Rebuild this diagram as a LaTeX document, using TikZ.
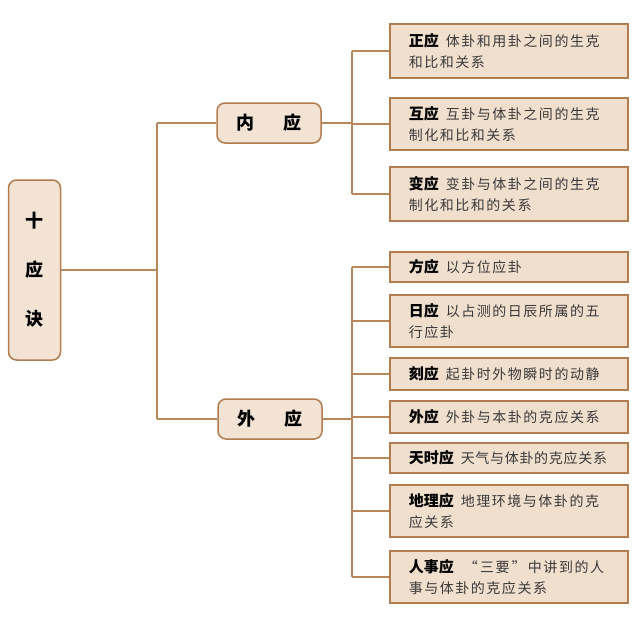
\documentclass[tikz,border=0pt]{standalone}
\usepackage{fontspec}
\newfontfamily\cjk[LetterSpace=11]{Noto Sans CJK SC}
\newfontfamily\cjktight[LetterSpace=5]{Noto Sans CJK SC}
\newfontfamily\cjkhead{Noto Sans CJK SC}
\definecolor{lineC}{HTML}{B8875C}
\definecolor{boxD}{HTML}{B07C50}
\definecolor{boxF}{HTML}{F1DFCE}
\definecolor{rootF}{HTML}{F3E3D4}
\definecolor{txt}{HTML}{3A3A3A}
\begin{document}
\begin{tikzpicture}[x=1pt,y=-1pt,
  conn/.style={draw=lineC, line width=1.5pt},
  rbox/.style={draw=boxD, fill=boxF, line width=1.5pt, rectangle, minimum width=238pt,
    inner xsep=19pt, inner ysep=0pt, align=left, text width=200pt,
    font=\cjk\fontsize{14}{21}\selectfont, text=txt, anchor=west},
  midbox/.style={draw=boxD, fill=rootF, line width=1.5pt, rounded corners=8pt,
    minimum width=104pt, minimum height=40pt, inner sep=0pt,
    font=\cjkhead\bfseries\fontsize{18}{20}\selectfont},
  rootbox/.style={draw=boxD, fill=rootF, line width=1.5pt, rounded corners=8pt,
    minimum width=52pt, minimum height=180pt, inner sep=0pt, align=center,
    font=\cjkhead\bfseries\fontsize{18}{49}\selectfont}
]
\useasboundingbox (0,0) rectangle (640,624);
\newcommand{\hd}[1]{{\cjkhead\color{black}\bfseries\fontsize{15}{21}\selectfont #1}\nobreak\hspace{7pt}}

% root and middle nodes
\node[rootbox] (root) at (34.5,270) {十\\应\\诀};
\node[midbox] (nei) at (269,123) {内\hspace{29pt}应};
\node[midbox] (wai) at (270,419) {外\hspace{29pt}应};

% right boxes
\node[rbox, minimum height=54pt] (z1) at (389,51) {\hd{正应}体卦和用卦之间的生克\\和比和关系};
\node[rbox, minimum height=52pt] (z2) at (389,124) {\hd{互应}互卦与体卦之间的生克\\制化和比和关系};
\node[rbox, minimum height=54pt] (z3) at (389,194) {\hd{变应}变卦与体卦之间的生克\\制化和比和的关系};

\node[rbox, minimum height=30pt] (w1) at (389,267) {\hd{方应}以方位应卦};
\node[rbox, minimum height=52pt] (w2) at (389,321) {\hd{日应}以占测的日辰所属的五\\行应卦};
\node[rbox, minimum height=32pt] (w3) at (389,374) {\hd{刻应}起卦时外物瞬时的动静};
\node[rbox, minimum height=32pt] (w4) at (389,417) {\hd{外应}外卦与本卦的克应关系};
\node[rbox, minimum height=30pt, font=\cjktight\fontsize{14}{21}\selectfont] (w5) at (389,458) {\hd{天时应}天气与体卦的克应关系};
\node[rbox, minimum height=52pt] (w6) at (389,511) {\hd{地理应}地理环境与体卦的克\\应关系};
\node[rbox, minimum height=52pt] (w7) at (389,577) {{\cjkhead\color{black}\bfseries\fontsize{15}{21}\selectfont 人事应}\nobreak\hspace{10pt}“\,三要\,”\nobreak\hspace{2pt}中讲到的人\\事与体卦的克应关系};

% bus coordinates
\coordinate (busL) at (157,0);
\coordinate (busA) at (352,0);

% left tree
\draw[conn] (root.east) -- (root.east -| busL);
\draw[conn] (nei.west -| busL) -- (wai.west -| busL);
\draw[conn] (nei.west -| busL) -- (nei.west);
\draw[conn] (wai.west -| busL) -- (wai.west);

% inner branch
\draw[conn] (nei.east) -- (nei.east -| busA);
\draw[conn] (z1.west -| busA) -- (z3.west -| busA);
\foreach \n in {z1,z2,z3} \draw[conn] (\n.west -| busA) -- (\n.west);

% outer branch
\draw[conn] (wai.east) -- (wai.east -| busA);
\draw[conn] (w1.west -| busA) -- (w7.west -| busA);
\foreach \n in {w1,w2,w3,w4,w5,w6,w7} \draw[conn] (\n.west -| busA) -- (\n.west);
\end{tikzpicture}
\end{document}
